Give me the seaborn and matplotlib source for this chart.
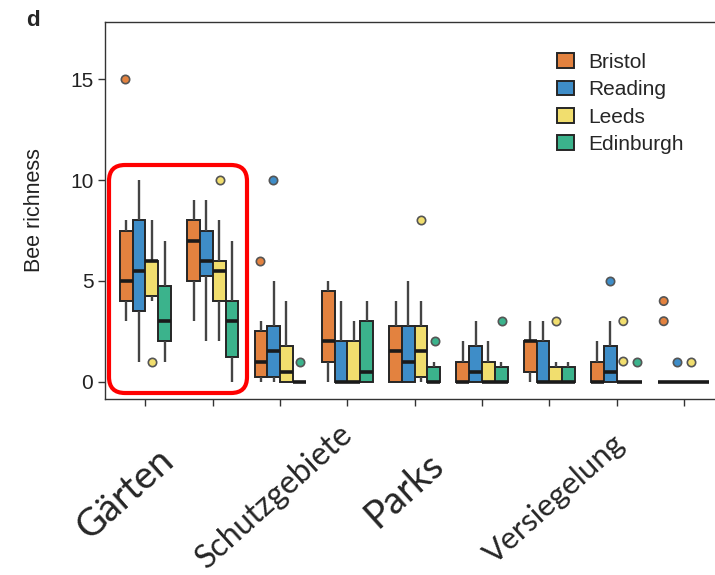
import pandas as pd
import matplotlib.pyplot as plt
import seaborn as sns
from matplotlib.patches import FancyBboxPatch
from matplotlib.transforms import IdentityTransform

sites = ["1", "2", "3", "4", "5", "6", "7", "8", "9"]
cities = ["Bristol", "Reading", "Leeds", "Edinburgh"]
city_colors = ["#E3823F", "#3E8DC8", "#F1DE6E", "#3BB38C"]

# min, q1, median, q3, max per site
bristol = [[3, 4, 5, 7.5, 8], [3, 5, 7, 8, 9], [0, 0.25, 1, 2.5, 3],
           [0, 1, 2, 4.5, 5], [0, 0, 1.5, 2.75, 4], [0, 0, 0, 1, 2],
           [0, 0.5, 2, 2, 3], [0, 0, 0, 1, 2], [0, 0, 0, 0, 0]]
reading = [[1, 3.5, 5.5, 8, 10], [2, 5.25, 6, 7.5, 9], [0, 0.25, 1.5, 2.75, 5],
           [0, 0, 0, 2, 4], [0, 0, 1, 2.75, 5], [0, 0, 0.5, 1.75, 3],
           [0, 0, 0, 2, 3], [0, 0, 0.5, 1.75, 3], [0, 0, 0, 0, 0]]
leeds = [[4, 4.25, 6, 6, 8], [2, 4, 5.5, 6, 8], [0, 0, 0.5, 1.75, 4],
         [0, 0, 0, 2, 3], [0, 0.25, 1.5, 2.75, 4], [0, 0, 0, 1, 2],
         [0, 0, 0, 0.75, 1], [0, 0, 0, 0, 0], [0, 0, 0, 0, 0]]
edinburgh = [[1, 2, 3, 4.75, 7], [0, 1.25, 3, 4, 7], [0, 0, 0, 0, 0],
             [0, 0, 0.5, 3, 4], [0, 0, 0, 0.75, 1], [0, 0, 0, 0.75, 1],
             [0, 0, 0, 0.75, 1], [0, 0, 0, 0, 0], [0, 0, 0, 0, 0]]

# outliers as (site index, value)
bristol_out = [(0, 15), (2, 6), (8, 4), (8, 3)]
reading_out = [(2, 10), (7, 5), (8, 1)]
leeds_out = [(0, 1), (1, 10), (4, 8), (6, 3), (7, 3), (7, 1), (8, 1)]
edinburgh_out = [(2, 1), (4, 2), (5, 3), (7, 1)]

box_rows = []
for city, stats in zip(cities, [bristol, reading, leeds, edinburgh]):
    for site, five in zip(sites, stats):
        for v in five:
            box_rows.append({"site": site, "city": city, "richness": v})
box_df = pd.DataFrame(box_rows)

out_rows = []
for city, pts in zip(cities, [bristol_out, reading_out, leeds_out, edinburgh_out]):
    for i, v in pts:
        out_rows.append({"site": sites[i], "city": city, "richness": v})
out_df = pd.DataFrame(out_rows)

sns.set_style("ticks")
plt.rcParams["font.family"] = ["Liberation Sans", "DejaVu Sans"]

fig = plt.figure(figsize=(7.15, 5.75), dpi=100)
ax = fig.add_axes([0.147, 0.306, 0.866, 0.656])

sns.boxplot(data=box_df, x="site", y="richness", hue="city", order=sites,
            hue_order=cities, palette=city_colors, whis=(0, 100), width=0.76,
            gap=0, linewidth=1.4, linecolor="#262626", showcaps=False,
            saturation=1,
            medianprops=dict(color="#1a1a1a", linewidth=2.6),
            whiskerprops=dict(color="#444444", linewidth=1.7), ax=ax)

leg = ax.get_legend()
handles = leg.legend_handles
labels = [t.get_text() for t in leg.get_texts()]
leg.remove()

sns.stripplot(data=out_df, x="site", y="richness", hue="city", order=sites,
              hue_order=cities, palette=city_colors, dodge=True, jitter=False,
              size=6, linewidth=1.2, edgecolor="#555555", legend=False, ax=ax)

ax.set_xlim(-0.6, 8.6)
ax.set_ylim(-0.86, 17.85)
ax.set_yticks([0, 5, 10, 15])
ax.set_xticks(range(len(sites)))
ax.set_xticklabels([])
ax.set_xlabel("")
ax.set_ylabel("Bee richness", fontsize=15.5, color="#222")
ax.yaxis.set_label_coords(-0.097, 0.5)
ax.tick_params(axis="both", length=5, width=1, color="#333", labelsize=15,
               labelcolor="#222")
ax.spines["right"].set_visible(False)
for s in ["left", "bottom", "top"]:
    ax.spines[s].set_color("#333")
    ax.spines[s].set_linewidth(1)

ax.legend(handles, labels, loc="upper left", bbox_to_anchor=(0.779, 0.908),
          bbox_transform=fig.transFigure, frameon=False, fontsize=15,
          borderpad=0, borderaxespad=0, handlelength=0.8, handleheight=0.7,
          handletextpad=0.7, labelspacing=0.4)

fig.text(0.037, 0.955, "d", fontsize=16, fontweight="bold")

# red highlight around the garden boxes
fig.add_artist(FancyBboxPatch((109, 182), 138, 228,
                              boxstyle="round,pad=0,rounding_size=16",
                              transform=IdentityTransform(), fill=False,
                              edgecolor="#ff0000", linewidth=3))

# German category labels
for txt, x, y, fs in [("Gärten", 0.2462, 0.1948, 27.5),
                      ("Schutzgebiete", 0.4965, 0.2400, 23),
                      ("Parks", 0.6238, 0.1861, 27.5),
                      ("Versiegelung", 0.8770, 0.2240, 22.5)]:
    fig.text(x, y, txt, fontsize=fs, rotation=42, rotation_mode="anchor",
             ha="right", va="baseline", family=["Lato", "DejaVu Sans"])

fig.savefig("out.png", dpi=100)
